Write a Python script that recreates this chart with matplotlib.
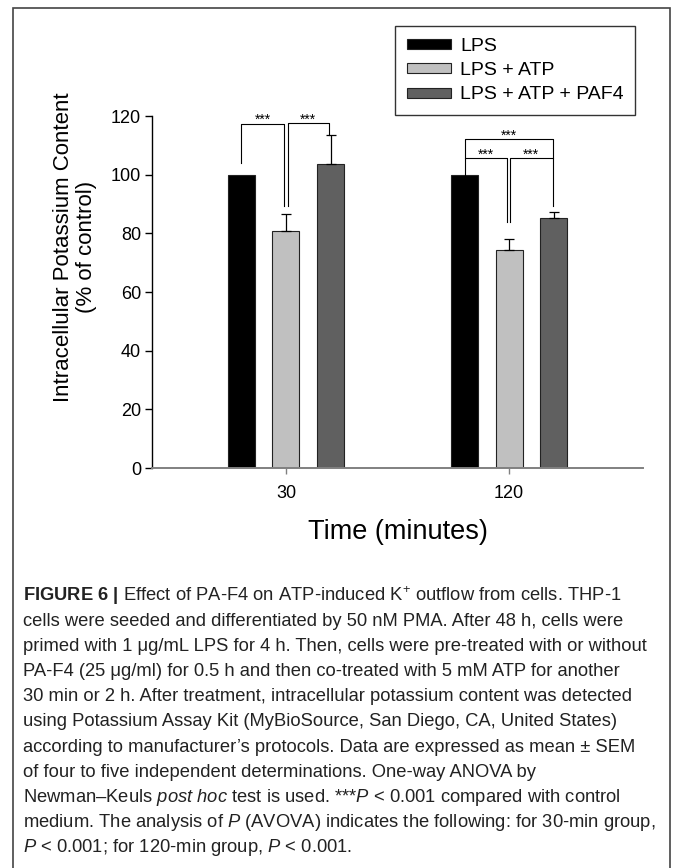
import numpy as np
import matplotlib.pyplot as plt
from matplotlib.patches import Rectangle

plt.rcParams['font.family'] = ['Liberation Sans', 'DejaVu Sans']
plt.rcParams['mathtext.fontset'] = 'custom'
plt.rcParams['mathtext.rm'] = 'Liberation Sans'
plt.rcParams['mathtext.it'] = 'Liberation Sans:italic'
plt.rcParams['mathtext.bf'] = 'Liberation Sans:bold'

times = ['30', '120']
groups = ['LPS', 'LPS + ATP', 'LPS + ATP + PAF4']
means = [[100, 100], [80.8, 74.3], [103.5, 85.2]]
sems = [[0, 0], [5.9, 3.7], [10.0, 2.1]]
colors = ['#000000', '#c0c0c0', '#606060']

caption = [
    r"$\mathbf{FIGURE\ 6\ |}$ Effect of PA-F4 on ATP-induced K$^{+}$ outflow from cells. THP-1",
    "cells were seeded and differentiated by 50 nM PMA. After 48 h, cells were",
    "primed with 1 \u03bcg/mL LPS for 4 h. Then, cells were pre-treated with or without",
    "PA-F4 (25 \u03bcg/ml) for 0.5 h and then co-treated with 5 mM ATP for another",
    "30 min or 2 h. After treatment, intracellular potassium content was detected",
    "using Potassium Assay Kit (MyBioSource, San Diego, CA, United States)",
    "according to manufacturer\u2019s protocols. Data are expressed as mean \u00b1 SEM",
    "of four to five independent determinations. One-way ANOVA by",
    "Newman\u2013Keuls " + r"$\mathit{post\ hoc}$ test is used. ***$\mathit{P}$ < 0.001 compared with control",
    r"medium. The analysis of $\mathit{P}$ (AVOVA) indicates the following: for 30-min group,",
    r"$\mathit{P}$ < 0.001; for 120-min group, $\mathit{P}$ < 0.001.",
]

fig = plt.figure(figsize=(6.73, 8.68), dpi=100)
ax = fig.add_axes([0.2259, 0.4608, 0.7296, 0.4055])

x = np.arange(len(times))
offs = [-0.2, 0.0, 0.2]
w = 0.121
for i in range(3):
    ax.bar(x + offs[i], means[i], w, color=colors[i], edgecolor='#222222',
           linewidth=0.8, label=groups[i], zorder=2)
    if i > 0:
        ax.errorbar(x + offs[i], means[i], yerr=[[0, 0], sems[i]], fmt='none',
                    ecolor='black', elinewidth=0.9, capsize=3.8, capthick=0.9, zorder=3)

def bracket(x1, x2, y, b1, b2):
    ax.plot([x1, x1, x2, x2], [b1, y, y, b2], color='black', lw=0.8, zorder=4)
    ax.text((x1 + x2) / 2, y - 1.2, '***', ha='center', va='bottom', fontsize=10)

bracket(-0.2, -0.008, 117.4, 104, 89.4)
bracket(0.008, 0.193, 117.6, 89.4, 113.5)
bracket(0.803, 0.991, 105.6, 100, 84)
bracket(1.003, 1.196, 105.6, 84, 89.4)
bracket(0.803, 1.196, 112.2, 105.6, 105.6)

ax.set_xlim(-0.6, 1.6)
ax.set_ylim(0, 120)
ax.set_yticks(np.arange(0, 121, 20))
ax.set_xticks(x)
ax.set_xticklabels(times)
ax.spines['top'].set_visible(False)
ax.spines['right'].set_visible(False)
ax.spines['left'].set_linewidth(1.0)
ax.spines['bottom'].set_color('#808080')
ax.spines['bottom'].set_linewidth(1.4)
ax.tick_params(axis='y', length=5, width=1, labelsize=13, pad=3)
ax.tick_params(axis='x', length=4, width=1, color='#808080', labelsize=13, pad=8)
ax.set_ylabel('Intracellular Potassium Content\n(% of control)', fontsize=16,
              linespacing=1.1)
ax.yaxis.set_label_coords(-0.112, 0.628)
ax.set_xlabel('Time (minutes)', fontsize=19.5)
ax.xaxis.set_label_coords(0.5, -0.145)

leg = fig.legend(loc='upper left', bbox_to_anchor=(0.587, 0.970), borderaxespad=0,
                 fontsize=14, handlelength=2.3, handleheight=0.42, handletextpad=0.45,
                 labelspacing=0.38, borderpad=0.6, fancybox=False, framealpha=1)
leg.get_frame().set_edgecolor('#333333')
leg.get_frame().set_linewidth(1.0)

fig.patches.append(Rectangle((0.0193, -0.01), 0.9755, 1.0008, transform=fig.transFigure,
                             fill=False, edgecolor='#444444', linewidth=1.2))

for k, line in enumerate(caption):
    fig.text(0.0342, 1 - (601 + 25.1 * k) / 868, line, fontsize=13.2, color='#222222',
             va='baseline', ha='left')

fig.savefig('out.png', dpi=100)
